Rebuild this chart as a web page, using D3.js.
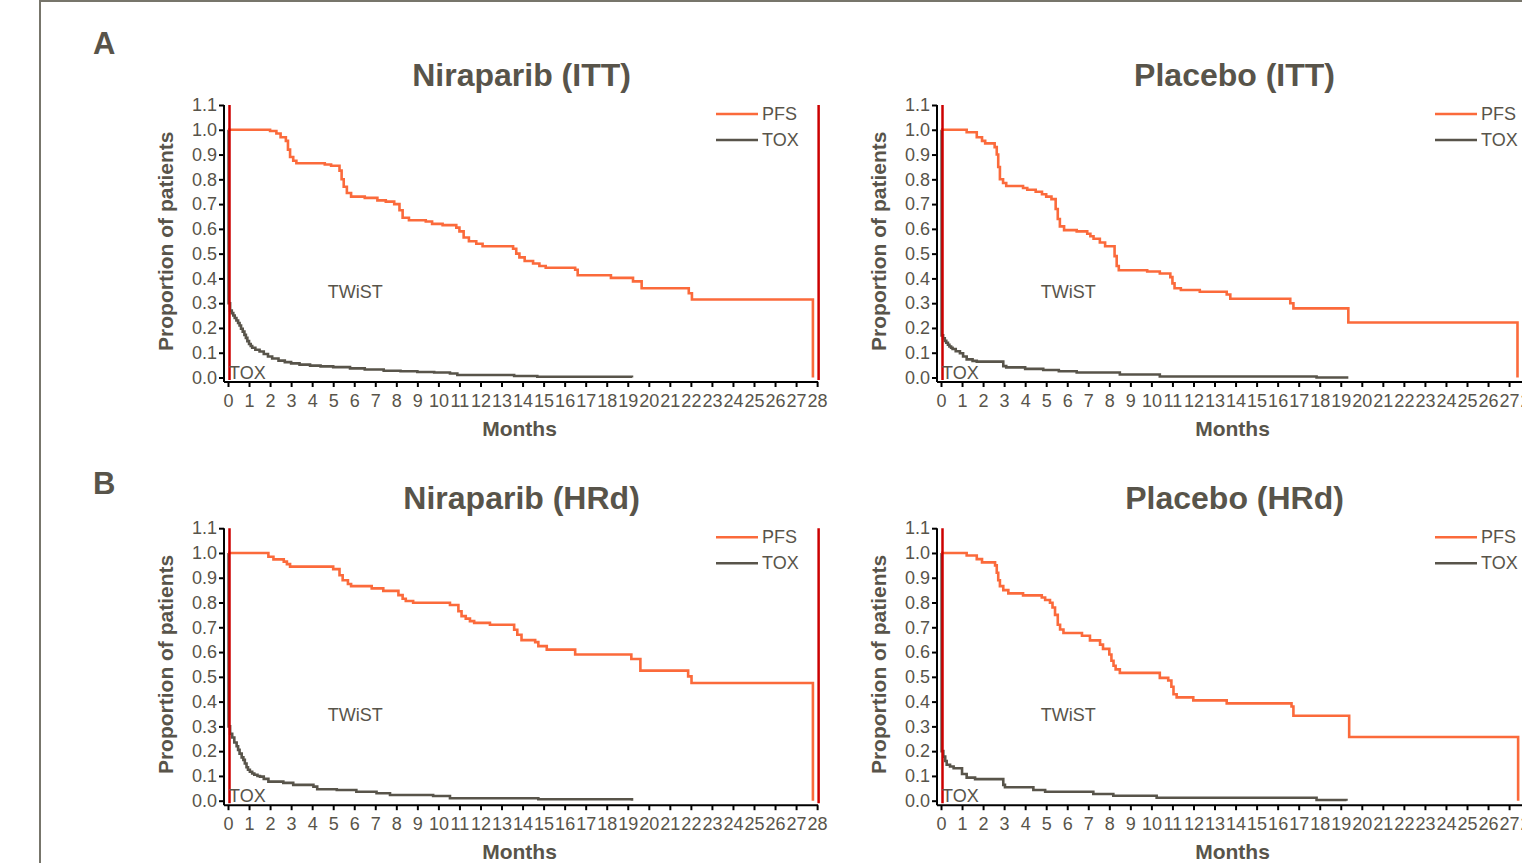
<!DOCTYPE html>
<html>
<head>
<meta charset="utf-8">
<script src="https://cdn.jsdelivr.net/npm/d3@7"></script>
<style>
  body { margin: 0; background: #fff; }
  svg { display: block; font-family: "Liberation Sans", Arial, sans-serif; }
  .axis path, .axis line { stroke: #000; stroke-width: 2; }
  .axis text { fill: #58544a; font-size: 18px; }
</style>
</head>
<body>
<div id="chart"></div>
<script>
// Kaplan-Meier style curves: [month, proportion]
const niraparibItt_pfs = [[0,1.0],[2.0,0.995],[2.3,0.985],[2.5,0.97],[2.75,0.955],[2.85,0.92],[2.95,0.89],[3.1,0.875],[3.25,0.865],[4.6,0.86],[4.9,0.855],[5.3,0.835],[5.4,0.80],[5.5,0.77],[5.65,0.745],[5.85,0.73],[6.5,0.725],[7.1,0.715],[7.5,0.71],[7.9,0.70],[8.15,0.675],[8.3,0.645],[8.6,0.635],[9.4,0.63],[9.7,0.62],[10.2,0.615],[10.85,0.605],[11.0,0.59],[11.2,0.565],[11.45,0.55],[11.8,0.54],[12.1,0.53],[13.55,0.52],[13.7,0.50],[13.85,0.485],[14.1,0.47],[14.5,0.46],[14.8,0.45],[15.1,0.443],[16.5,0.435],[16.62,0.413],[18.2,0.402],[19.25,0.388],[19.66,0.36],[21.9,0.34],[22.05,0.315],[27.8,0]];
const niraparibItt_tox = [[0,1.0],[0.03,0.30],[0.1,0.27],[0.18,0.26],[0.25,0.25],[0.32,0.24],[0.4,0.23],[0.48,0.22],[0.55,0.21],[0.62,0.197],[0.7,0.185],[0.78,0.172],[0.85,0.16],[0.92,0.147],[1.0,0.135],[1.08,0.127],[1.15,0.12],[1.3,0.112],[1.5,0.105],[1.7,0.095],[1.9,0.085],[2.1,0.077],[2.4,0.068],[2.7,0.062],[3.0,0.057],[3.4,0.052],[3.9,0.048],[4.4,0.045],[5.0,0.042],[5.8,0.037],[6.5,0.032],[7.4,0.027],[8.2,0.025],[9.0,0.022],[9.8,0.02],[10.55,0.016],[10.9,0.01],[13.6,0.006],[14.7,0.003],[19.2,0.0]];

const placeboItt_pfs = [[0,1.0],[1.22,0.99],[1.7,0.97],[1.95,0.955],[2.1,0.945],[2.55,0.93],[2.65,0.90],[2.72,0.85],[2.8,0.80],[2.95,0.785],[3.1,0.773],[3.9,0.765],[4.1,0.758],[4.5,0.75],[4.8,0.74],[5.0,0.73],[5.25,0.72],[5.45,0.68],[5.55,0.64],[5.65,0.61],[5.85,0.595],[6.45,0.59],[6.95,0.58],[7.1,0.57],[7.25,0.56],[7.55,0.545],[7.8,0.53],[8.25,0.49],[8.35,0.45],[8.45,0.433],[9.8,0.428],[10.4,0.42],[10.9,0.405],[11.0,0.38],[11.1,0.36],[11.4,0.353],[12.3,0.346],[13.58,0.335],[13.75,0.318],[16.6,0.30],[16.75,0.279],[19.36,0.222],[27.4,0]];
const placeboItt_tox = [[0,1.0],[0.03,0.17],[0.1,0.158],[0.18,0.148],[0.25,0.14],[0.33,0.132],[0.4,0.125],[0.48,0.12],[0.55,0.115],[0.7,0.106],[0.9,0.098],[1.05,0.085],[1.22,0.073],[1.5,0.067],[1.7,0.064],[2.96,0.046],[3.1,0.041],[4.0,0.035],[4.86,0.03],[5.6,0.025],[6.45,0.02],[8.5,0.012],[10.4,0.004],[17.85,0.0],[19.36,0.0]];

const niraparibHrd_pfs = [[0,1.0],[1.92,0.985],[2.16,0.974],[2.65,0.965],[2.8,0.955],[2.95,0.945],[5.0,0.935],[5.3,0.91],[5.45,0.89],[5.7,0.875],[5.85,0.866],[6.83,0.857],[7.38,0.847],[8.1,0.83],[8.3,0.815],[8.45,0.806],[8.8,0.799],[10.55,0.79],[10.95,0.765],[11.1,0.745],[11.3,0.735],[11.5,0.725],[11.7,0.718],[12.45,0.71],[13.6,0.69],[13.75,0.67],[13.95,0.648],[14.6,0.64],[14.75,0.624],[15.15,0.61],[16.5,0.59],[19.17,0.572],[19.6,0.525],[21.87,0.502],[22.03,0.475],[27.8,0]];
const niraparibHrd_tox = [[0,1.0],[0.03,0.30],[0.1,0.27],[0.2,0.255],[0.3,0.235],[0.41,0.22],[0.48,0.205],[0.55,0.19],[0.65,0.175],[0.73,0.165],[0.8,0.15],[0.88,0.135],[0.95,0.125],[1.04,0.117],[1.15,0.11],[1.25,0.105],[1.4,0.1],[1.52,0.097],[1.7,0.088],[1.92,0.077],[2.63,0.072],[3.1,0.064],[4.06,0.057],[4.24,0.046],[5.17,0.043],[6.1,0.036],[7.06,0.03],[7.7,0.023],[9.75,0.019],[10.55,0.01],[14.75,0.006],[19.2,0.0]];

const placeboHrd_pfs = [[0,1.0],[1.22,0.99],[1.7,0.975],[1.95,0.962],[2.57,0.95],[2.65,0.92],[2.72,0.89],[2.8,0.866],[2.96,0.85],[3.2,0.837],[3.9,0.829],[4.79,0.82],[4.95,0.81],[5.18,0.799],[5.3,0.78],[5.42,0.75],[5.55,0.71],[5.66,0.691],[5.82,0.677],[6.7,0.666],[7.08,0.647],[7.56,0.63],[7.7,0.613],[8.0,0.59],[8.1,0.565],[8.2,0.545],[8.3,0.53],[8.5,0.516],[10.4,0.496],[10.8,0.485],[10.95,0.46],[11.05,0.43],[11.2,0.417],[11.99,0.405],[13.58,0.393],[16.66,0.38],[16.75,0.343],[19.4,0.257],[27.43,0]];
const placeboHrd_tox = [[0,1.0],[0.03,0.20],[0.11,0.178],[0.2,0.16],[0.27,0.145],[0.43,0.138],[0.6,0.131],[1.0,0.108],[1.22,0.093],[1.62,0.087],[2.96,0.064],[3.04,0.054],[4.39,0.043],[4.95,0.036],[7.24,0.027],[8.19,0.02],[10.25,0.012],[17.85,0.003],[19.27,0.0]];

const monthTicks = d3.range(0, 29);
const yTicks = d3.range(0, 12).map(i => i / 10);
const cutoffs = [0, 28];
const legendLabels = ['PFS', 'TOX'];
const panelTitles = ['Niraparib (ITT)', 'Placebo (ITT)', 'Niraparib (HRd)', 'Placebo (HRd)'];
const sectionLabels = ['A', 'B'];

const colors = { PFS: '#fb6a3b', TOX: '#58544a', cut: '#cc0000', text: '#58544a' };

class KMPanel {
  constructor(svg, opts) {
    this.svg = svg;
    this.opts = opts;
  }

  draw() {
    const o = this.opts;
    this.g = this.svg.append('g');
    this.x = d3.scaleLinear().domain([0, 28]).range([o.x0, o.x0 + 28 * 21.04]);
    this.y = d3.scaleLinear().domain([0, 1.1]).range([o.y0, o.y0 - 272.5]);
    this.addAxes();
    this.addLines();
    this.addCutoffs();
    this.addLabels();
  }

  addAxes() {
    const o = this.opts;
    const yAx = this.g.append('g')
      .attr('class', 'axis')
      .attr('transform', `translate(${o.x0 - 4},0)`)
      .call(d3.axisLeft(this.y).tickValues(yTicks).tickSize(5).tickSizeOuter(0)
        .tickPadding(2).tickFormat(d3.format('.1f')));
    yAx.select('.domain').attr('d', `M0,${this.y(1.1)}V${o.y0 + 4.5}`);

    const xAx = this.g.append('g')
      .attr('class', 'axis')
      .attr('transform', `translate(0,${o.y0 + 4.5})`)
      .call(d3.axisBottom(this.x).tickValues(monthTicks).tickSize(5).tickSizeOuter(0)
        .tickPadding(7));
    xAx.select('.domain').attr('d', `M${o.x0 - 4},0H${this.x(28) + 1}`);

    this.g.append('text')
      .attr('x', (this.x(0) + this.x(28)) / 2 - 3)
      .attr('y', o.y0 + 58)
      .attr('text-anchor', 'middle')
      .attr('font-size', 21).attr('font-weight', 'bold')
      .attr('fill', colors.text)
      .text('Months');

    this.g.append('text')
      .attr('transform', `translate(${o.x0 - 55},${this.y(0.55)}) rotate(-90)`)
      .attr('text-anchor', 'middle')
      .attr('font-size', 21).attr('font-weight', 'bold')
      .attr('fill', colors.text)
      .text('Proportion of patients');
  }

  addLines() {
    const o = this.opts;
    const line = d3.line()
      .x(d => this.x(d[0]))
      .y(d => this.y(d[1]))
      .curve(d3.curveStepAfter);
    [['TOX', o.tox], ['PFS', o.pfs]].forEach(([key, values]) => {
      this.g.append('path')
        .datum(values)
        .attr('fill', 'none')
        .attr('stroke', colors[key])
        .attr('stroke-width', 2.6)
        .attr('d', line);
    });
  }

  addCutoffs() {
    const o = this.opts;
    cutoffs.forEach(c => {
      this.g.append('line')
        .attr('x1', this.x(c) + 1.5).attr('x2', this.x(c) + 1.5)
        .attr('y1', this.y(1.1)).attr('y2', o.y0 + 2.5)
        .attr('stroke', colors.cut)
        .attr('stroke-width', 2.5);
    });
  }

  addLabels() {
    const o = this.opts;
    this.g.append('text')
      .attr('x', (this.x(0) + this.x(28)) / 2 - 1)
      .attr('y', this.y(1.1) - 19)
      .attr('text-anchor', 'middle')
      .attr('font-size', 32).attr('font-weight', 'bold')
      .attr('fill', colors.text)
      .text(o.title);

    this.g.append('text')
      .attr('x', this.x(6.05)).attr('y', this.y(0.35) + 7)
      .attr('text-anchor', 'middle')
      .attr('font-size', 18).attr('fill', colors.text)
      .text('TWiST');

    this.g.append('text')
      .attr('x', this.x(0.05)).attr('y', o.y0 + 1)
      .attr('font-size', 18).attr('fill', colors.text)
      .text('TOX');

    legendLabels.forEach((lab, i) => {
      const ly = this.y(1.1) + 9 + i * 26;
      this.g.append('line')
        .attr('x1', o.legendX).attr('x2', o.legendX + 42)
        .attr('y1', ly).attr('y2', ly)
        .attr('stroke', colors[lab]).attr('stroke-width', 2.6);
      this.g.append('text')
        .attr('x', o.legendX + 46).attr('y', ly + 6)
        .attr('font-size', 18).attr('fill', colors.text)
        .text(lab);
    });
  }
}

const svg = d3.select('#chart').append('svg')
  .attr('width', 1522).attr('height', 863);

// frame
svg.append('path')
  .attr('d', 'M40,863V1H1522')
  .attr('fill', 'none')
  .attr('stroke', '#77756b')
  .attr('stroke-width', 2);

const panels = [
  { title: panelTitles[0], pfs: niraparibItt_pfs, tox: niraparibItt_tox, x0: 228, y0: 377.5, legendX: 716 },
  { title: panelTitles[1], pfs: placeboItt_pfs, tox: placeboItt_tox, x0: 941, y0: 377.5, legendX: 1435 },
  { title: panelTitles[2], pfs: niraparibHrd_pfs, tox: niraparibHrd_tox, x0: 228, y0: 800.7, legendX: 716 },
  { title: panelTitles[3], pfs: placeboHrd_pfs, tox: placeboHrd_tox, x0: 941, y0: 800.7, legendX: 1435 }
];
panels.forEach(p => new KMPanel(svg, p).draw());

sectionLabels.forEach((s, i) => {
  svg.append('text')
    .attr('x', 93).attr('y', 54 + i * 440)
    .attr('font-size', 31).attr('font-weight', 'bold')
    .attr('fill', colors.text)
    .text(s);
});
</script>
</body>
</html>
